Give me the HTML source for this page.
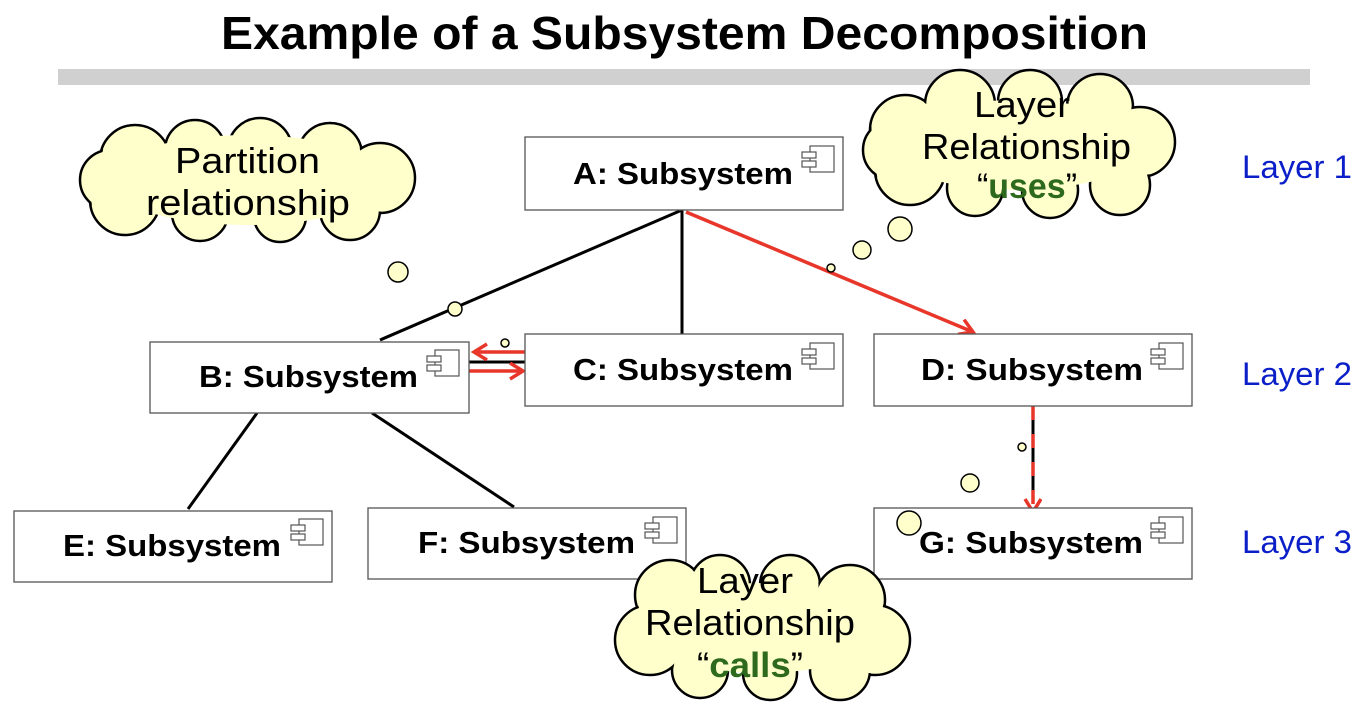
<!DOCTYPE html>
<html><head><meta charset="utf-8"><style>
html,body{margin:0;padding:0;background:#fff;}
svg{display:block;}
</style></head><body>
<svg width="1372" height="712" viewBox="0 0 1372 712" xmlns="http://www.w3.org/2000/svg" font-family="Liberation Sans, sans-serif">
<defs>
<marker id="ar" markerWidth="22" markerHeight="22" refX="15" refY="9" orient="auto" markerUnits="userSpaceOnUse">
<path d="M2,1 L15,9 L2,17" fill="none" stroke="#e8362a" stroke-width="3.5"/>
</marker>
<g id="comp"><rect x="8" y="0" width="24" height="26" fill="#fff" stroke="#555" stroke-width="1.2"/><rect x="0" y="6" width="14" height="6" fill="#fff" stroke="#555" stroke-width="1.2"/><rect x="0" y="15" width="14" height="6" fill="#fff" stroke="#555" stroke-width="1.2"/></g>
</defs>
<text x="221" y="49" font-size="46" font-weight="bold" textLength="927" lengthAdjust="spacingAndGlyphs">Example of a Subsystem Decomposition</text>
<rect x="58" y="69" width="1252" height="16" fill="#d0d0d0"/>

<g stroke="#000" stroke-width="3" fill="none">
<line x1="682" y1="210" x2="380" y2="340"/>
<line x1="682" y1="210" x2="682" y2="334"/>
<line x1="257" y1="413" x2="188" y2="509"/>
<line x1="372" y1="413" x2="514" y2="507"/>
<line x1="469" y1="362" x2="525" y2="362"/>
<line x1="1033" y1="406" x2="1033" y2="500"/>
</g>
<g stroke="#e8362a" stroke-width="3.5" fill="none">
<line x1="686" y1="212" x2="973" y2="332" marker-end="url(#ar)"/>
<line x1="525" y1="352" x2="474" y2="352" marker-end="url(#ar)"/>
<line x1="469" y1="371" x2="523" y2="371" marker-end="url(#ar)"/>
<line x1="1033" y1="406" x2="1033" y2="512" stroke-dasharray="14,14" marker-end="url(#ar)"/>
</g>

<g fill="#fff" stroke="#555" stroke-width="1.3">
<rect x="525" y="137" width="318" height="73"/>
<rect x="150" y="342" width="319" height="71"/>
<rect x="525" y="334" width="318" height="72"/>
<rect x="874" y="334" width="318" height="72"/>
<rect x="14" y="511" width="318" height="71"/>
<rect x="368" y="508" width="318" height="71"/>
<rect x="874" y="508" width="318" height="71"/>
</g>
<g font-size="31" font-weight="bold">
<text x="573" y="184" textLength="220" lengthAdjust="spacingAndGlyphs">A: Subsystem</text>
<text x="199" y="387" textLength="219" lengthAdjust="spacingAndGlyphs">B: Subsystem</text>
<text x="573" y="380" textLength="220" lengthAdjust="spacingAndGlyphs">C: Subsystem</text>
<text x="921" y="380" textLength="222" lengthAdjust="spacingAndGlyphs">D: Subsystem</text>
<text x="63" y="556" textLength="218" lengthAdjust="spacingAndGlyphs">E: Subsystem</text>
<text x="418" y="553" textLength="217" lengthAdjust="spacingAndGlyphs">F: Subsystem</text>
<text x="919" y="553" textLength="224" lengthAdjust="spacingAndGlyphs">G: Subsystem</text>
</g>
<use href="#comp" x="802" y="146"/>
<use href="#comp" x="427" y="350"/>
<use href="#comp" x="802" y="343"/>
<use href="#comp" x="1151" y="343"/>
<use href="#comp" x="291" y="519"/>
<use href="#comp" x="645" y="517"/>
<use href="#comp" x="1151" y="517"/>

<g fill="#ffffcc" stroke="#000" stroke-width="1.5">
<circle cx="398" cy="272" r="10"/><circle cx="455" cy="309" r="7"/><circle cx="505" cy="343" r="4"/>
<circle cx="831" cy="268" r="4"/><circle cx="862" cy="250" r="9"/><circle cx="900" cy="229" r="12"/>
<circle cx="1022" cy="447" r="4"/><circle cx="970" cy="483" r="9"/><circle cx="909" cy="523" r="12"/>
</g>

<g fill="#ffffcc" stroke="#000" stroke-width="2.5">
<circle cx="135" cy="160" r="35"/><circle cx="195" cy="150" r="30"/><circle cx="260" cy="150" r="32"/><circle cx="330" cy="155" r="32"/><circle cx="380" cy="178" r="35"/><circle cx="350" cy="210" r="30"/><circle cx="280" cy="216" r="26"/><circle cx="200" cy="213" r="28"/><circle cx="125" cy="200" r="35"/><circle cx="110" cy="180" r="30"/>
<circle cx="905" cy="130" r="35"/><circle cx="960" cy="105" r="35"/><circle cx="1030" cy="102" r="32"/><circle cx="1100" cy="107" r="33"/><circle cx="1140" cy="142" r="35"/><circle cx="1120" cy="185" r="30"/><circle cx="1050" cy="190" r="28"/><circle cx="975" cy="188" r="28"/><circle cx="910" cy="170" r="35"/><circle cx="893" cy="150" r="30"/>
<circle cx="670" cy="595" r="35"/><circle cx="720" cy="585" r="30"/><circle cx="790" cy="585" r="30"/><circle cx="850" cy="600" r="35"/><circle cx="875" cy="640" r="35"/><circle cx="840" cy="670" r="30"/><circle cx="770" cy="673" r="27"/><circle cx="700" cy="670" r="28"/><circle cx="650" cy="640" r="35"/>
</g>
<g fill="#ffffcc">
<ellipse cx="247" cy="180" rx="140" ry="45"/>
<circle cx="135" cy="160" r="33.5"/><circle cx="195" cy="150" r="28.5"/><circle cx="260" cy="150" r="30.5"/><circle cx="330" cy="155" r="30.5"/><circle cx="380" cy="178" r="33.5"/><circle cx="350" cy="210" r="28.5"/><circle cx="280" cy="216" r="24.5"/><circle cx="200" cy="213" r="26.5"/><circle cx="125" cy="200" r="33.5"/><circle cx="110" cy="180" r="28.5"/>
<ellipse cx="1016" cy="145" rx="130" ry="45"/>
<circle cx="905" cy="130" r="33.5"/><circle cx="960" cy="105" r="33.5"/><circle cx="1030" cy="102" r="30.5"/><circle cx="1100" cy="107" r="31.5"/><circle cx="1140" cy="142" r="33.5"/><circle cx="1120" cy="185" r="28.5"/><circle cx="1050" cy="190" r="26.5"/><circle cx="975" cy="188" r="26.5"/><circle cx="910" cy="170" r="33.5"/><circle cx="893" cy="150" r="28.5"/>
<ellipse cx="762" cy="628" rx="120" ry="45"/>
<circle cx="670" cy="595" r="33.5"/><circle cx="720" cy="585" r="28.5"/><circle cx="790" cy="585" r="28.5"/><circle cx="850" cy="600" r="33.5"/><circle cx="875" cy="640" r="33.5"/><circle cx="840" cy="670" r="28.5"/><circle cx="770" cy="673" r="25.5"/><circle cx="700" cy="670" r="26.5"/><circle cx="650" cy="640" r="33.5"/>
</g>
<g font-size="36">
<text x="175" y="173" textLength="145" lengthAdjust="spacingAndGlyphs">Partition</text>
<text x="146" y="215" textLength="204" lengthAdjust="spacingAndGlyphs">relationship</text>
<text x="974" y="117" textLength="96" lengthAdjust="spacingAndGlyphs">Layer</text>
<text x="922" y="159" textLength="209" lengthAdjust="spacingAndGlyphs">Relationship</text>
<text x="977" y="198" font-size="35" textLength="100" lengthAdjust="spacingAndGlyphs">“<tspan fill="#2d6a1e" font-weight="bold">uses</tspan>”</text>
<text x="697" y="593" textLength="96" lengthAdjust="spacingAndGlyphs">Layer</text>
<text x="645" y="635" textLength="210" lengthAdjust="spacingAndGlyphs">Relationship</text>
<text x="697" y="677" font-size="35" textLength="106" lengthAdjust="spacingAndGlyphs">“<tspan fill="#2d6a1e" font-weight="bold">calls</tspan>”</text>
</g>

<g font-size="32" fill="#0b1fc8">
<text x="1242" y="178" textLength="110" lengthAdjust="spacingAndGlyphs">Layer 1</text>
<text x="1242" y="385" textLength="110" lengthAdjust="spacingAndGlyphs">Layer 2</text>
<text x="1242" y="553" textLength="110" lengthAdjust="spacingAndGlyphs">Layer 3</text>
</g>
</svg>
</body></html>
